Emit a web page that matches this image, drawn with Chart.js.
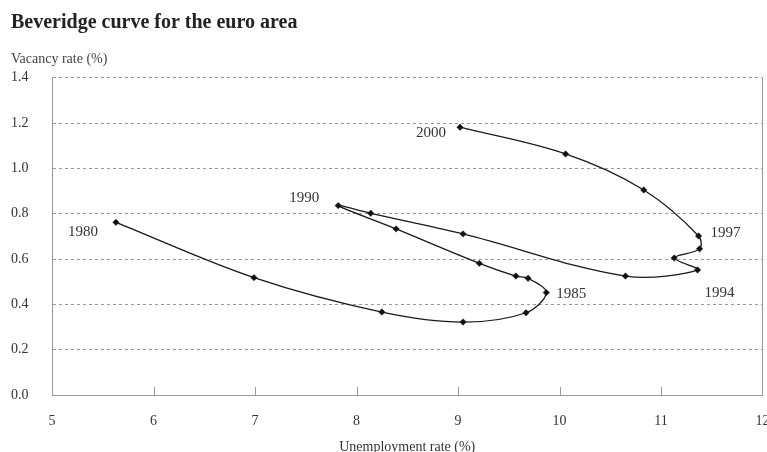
<!DOCTYPE html>
<html>
<head>
<meta charset="utf-8">
<script src="https://cdn.jsdelivr.net/npm/chart.js@4.4.1/dist/chart.umd.min.js"></script>
<style>
  html, body { margin: 0; padding: 0; background: #fff; }
  #wrap { width: 767px; height: 452px; }
</style>
</head>
<body>
<div id="wrap"><canvas id="c" width="767" height="452"></canvas></div>
<script>
// ---- data ----
const years = [1980, 1981, 1982, 1983, 1984, 1985, 1986, 1987, 1988, 1989, 1990,
               1991, 1992, 1993, 1994, 1995, 1996, 1997, 1998, 1999, 2000];
const unemploymentRate = [5.63, 6.99, 8.25, 9.05, 9.67, 9.87, 9.69, 9.57, 9.21, 8.39, 7.82,
                          8.14, 9.05, 10.65, 11.36, 11.13, 11.38, 11.37, 10.83, 10.06, 9.02];
const vacancyRate = [0.762, 0.518, 0.366, 0.322, 0.363, 0.452, 0.515, 0.525, 0.581, 0.733, 0.836,
                     0.802, 0.711, 0.525, 0.552, 0.605, 0.645, 0.702, 0.905, 1.064, 1.182];
const labelledYears = [1980, 1985, 1990, 1994, 1997, 2000];
const xTickValues = [5, 6, 7, 8, 9, 10, 11, 12];
const yTickValues = [0, 0.2, 0.4, 0.6, 0.8, 1.0, 1.2, 1.4];

const points = unemploymentRate.map((u, i) => ({ x: u, y: vacancyRate[i] }));

const SERIF = '"Liberation Serif", "Times New Roman", serif';

// label placement relative to its point (style only)
const labelPlacement = {
  1980: { dx: -18, dy: 10, align: 'right' },
  1985: { dx: 10, dy: 1, align: 'left' },
  1990: { dx: -19, dy: -8, align: 'right' },
  1994: { dx: 7, dy: 23, align: 'left' },
  1997: { dx: 12, dy: -3, align: 'left' },
  2000: { dx: -14, dy: 6, align: 'right' }
};

const decorations = {
  id: 'decorations',
  afterDatasetsDraw(chart) {
    const ctx = chart.ctx;
    const xs = chart.scales.x;
    const area = chart.chartArea;
    ctx.save();
    // right frame line
    ctx.strokeStyle = '#999';
    ctx.lineWidth = 1;
    ctx.beginPath();
    ctx.moveTo(Math.round(area.right) - 0.5, area.top);
    ctx.lineTo(Math.round(area.right) - 0.5, area.bottom);
    ctx.stroke();
    // inward tick marks on x axis
    xTickValues.forEach(v => {
      if (v === xTickValues[0] || v === xTickValues[xTickValues.length - 1]) return;
      const px = Math.round(xs.getPixelForValue(v)) + 0.5;
      ctx.beginPath();
      ctx.moveTo(px, area.bottom);
      ctx.lineTo(px, area.bottom - 8);
      ctx.stroke();
    });
    // year labels
    const meta = chart.getDatasetMeta(0);
    ctx.fillStyle = '#333';
    ctx.font = '15px ' + SERIF;
    ctx.textBaseline = 'middle';
    labelledYears.forEach(yr => {
      const idx = years.indexOf(yr);
      const el = meta.data[idx];
      const p = labelPlacement[yr];
      ctx.textAlign = p.align;
      ctx.fillText(String(yr), el.x + p.dx, el.y + p.dy);
    });
    ctx.restore();
  }
};

new Chart(document.getElementById('c'), {
  type: 'scatter',
  data: {
    datasets: [{
      label: 'Beveridge curve',
      data: points,
      showLine: true,
      tension: 0.35,
      borderColor: '#1a1a1a',
      borderWidth: 1.3,
      pointStyle: 'rectRot',
      pointRadius: 3.2,
      pointBackgroundColor: '#111',
      pointBorderColor: '#111',
      pointBorderWidth: 0.5
    }]
  },
  options: {
    responsive: false,
    animation: false,
    devicePixelRatio: 1,
    layout: { padding: { left: 11, right: 4, top: 0, bottom: 0 } },
    plugins: {
      legend: { display: false },
      tooltip: { enabled: false },
      title: {
        display: true,
        text: 'Beveridge curve for the euro area',
        align: 'start',
        color: '#222',
        font: { family: SERIF, size: 20, weight: 'bold' },
        padding: { top: 11, bottom: 16 }
      },
      subtitle: {
        display: true,
        text: 'Vacancy rate (%)',
        align: 'start',
        color: '#444',
        font: { family: SERIF, size: 14 },
        padding: { top: 0, bottom: 10 }
      }
    },
    scales: {
      x: {
        type: 'linear',
        min: 5, max: 12,
        afterBuildTicks: s => { s.ticks = xTickValues.map(v => ({ value: v })); },
        afterFit: s => { s.height = 57; s.paddingLeft = 0; s.paddingRight = 0; },
        grid: { display: false, drawTicks: false },
        border: { display: true, color: '#999', width: 1 },
        ticks: {
          padding: 18,
          color: '#333',
          font: { family: SERIF, size: 14 },
          callback: v => String(v)
        },
        title: {
          display: true,
          text: 'Unemployment rate (%)',
          color: '#333',
          font: { family: SERIF, size: 14 },
          padding: { top: 0, bottom: -4 }
        }
      },
      y: {
        type: 'linear',
        min: 0, max: 1.4,
        afterBuildTicks: s => { s.ticks = yTickValues.map(v => ({ value: v })); },
        afterFit: s => { s.width = 41; },
        grid: { color: '#999', lineWidth: 1, drawTicks: false },
        border: { display: true, color: '#999', width: 1, dash: [3, 3] },
        ticks: {
          padding: 0,
          crossAlign: 'far',
          color: '#333',
          font: { family: SERIF, size: 14 },
          callback: v => Number(v).toFixed(1)
        }
      }
    }
  },
  plugins: [decorations]
});
</script>
</body>
</html>
